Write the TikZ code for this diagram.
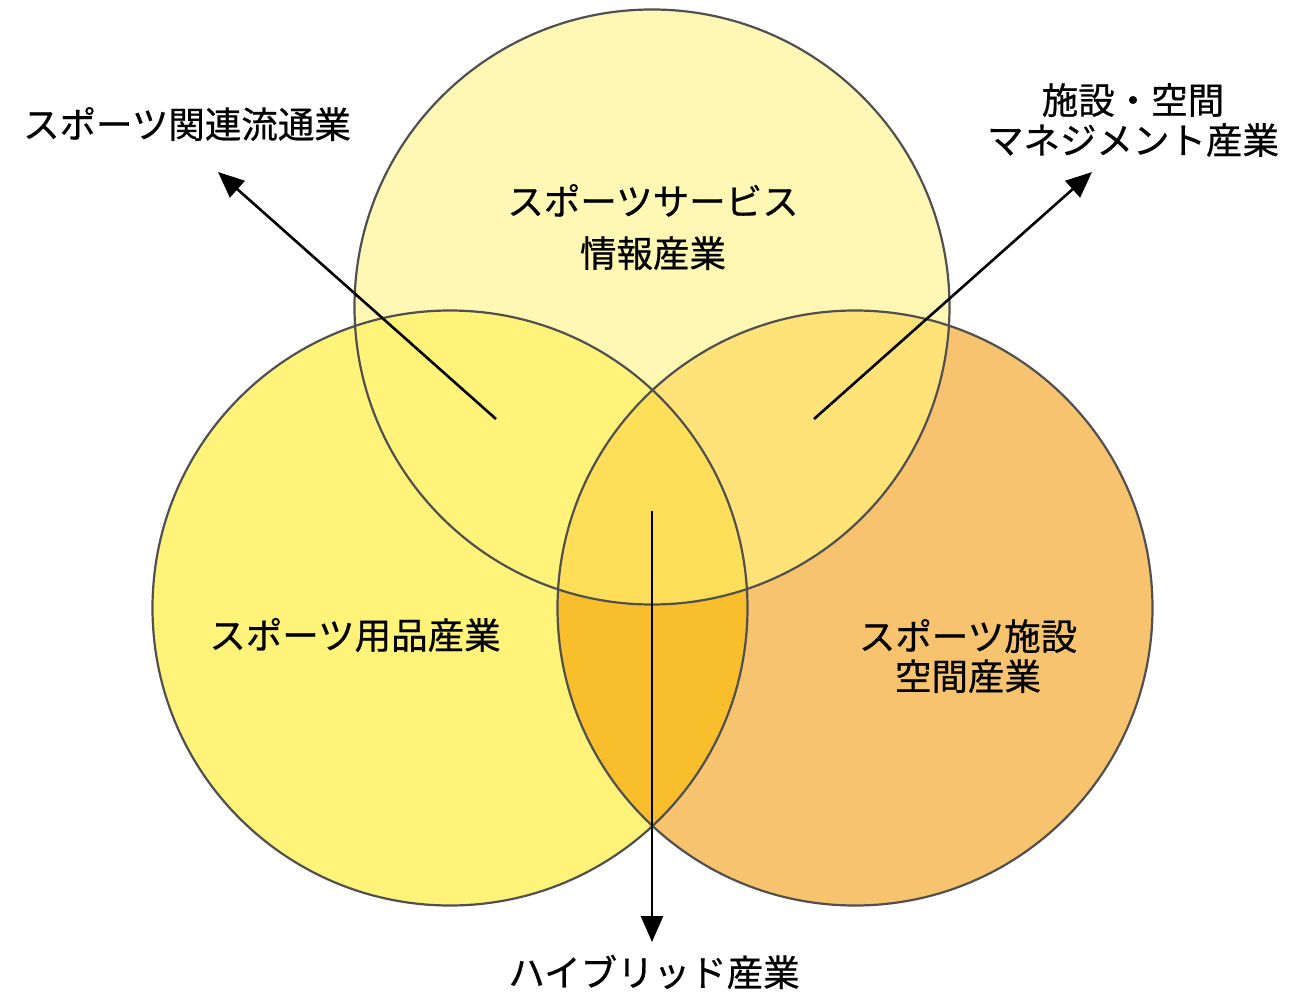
\documentclass[tikz,border=0pt]{standalone}
\usepackage{fontspec}
\setmainfont{Noto Sans CJK JP}[FakeBold=0.6]
\usetikzlibrary{arrows.meta}
\definecolor{ctop}{HTML}{FFF8B4}
\definecolor{cleft}{HTML}{FFF37A}
\definecolor{cright}{HTML}{F8C36E}
\definecolor{ctl}{HTML}{FFF37A}
\definecolor{ctr}{HTML}{FFE278}
\definecolor{clr}{HTML}{F8BE2C}
\definecolor{ccen}{HTML}{FFDF5A}
\definecolor{cedge}{HTML}{505050}
\tikzset{
  lbl/.style={font=\fontsize{36.5}{40}\selectfont, align=center, inner sep=0pt},
  arr/.style={line width=2.6pt, -{Triangle[length=26pt,width=22pt]}},
  rim/.style={draw=cedge, line width=2.2pt}
}
\begin{document}
\begin{tikzpicture}[x=1pt,y=-1pt]
\useasboundingbox (0,0) rectangle (1310,993);
\coordinate (T) at (652,307);
\coordinate (L) at (450,608);
\coordinate (R) at (855,608);
\def\rr{297.5pt}
% single fills
\fill[ctop] (T) circle[radius=\rr];
\fill[cleft] (L) circle[radius=\rr];
\fill[cright] (R) circle[radius=\rr];
% overlaps
\begin{scope}
  \clip (T) circle[radius=\rr];
  \fill[ctl] (L) circle[radius=\rr];
  \fill[ctr] (R) circle[radius=\rr];
\end{scope}
\begin{scope}
  \clip (L) circle[radius=\rr];
  \fill[clr] (R) circle[radius=\rr];
\end{scope}
\begin{scope}
  \clip (T) circle[radius=\rr];
  \clip (L) circle[radius=\rr];
  \fill[ccen] (R) circle[radius=\rr];
\end{scope}
% rims
\draw[rim] (L) circle[radius=\rr];
\draw[rim] (R) circle[radius=\rr];
\draw[rim] (T) circle[radius=\rr];
% labels
\node[lbl, font=\fontsize{36.5}{52}\selectfont] (svc) at (653,227) {スポーツサービス\\情報産業};
\node[lbl] (goods) at (355,635) {スポーツ用品産業};
\node[lbl] (fac) at (968,656) {スポーツ施設\\空間産業};
\node[lbl] (dist) at (187,124) {スポーツ関連流通業};
\node[lbl] (mgmt) at (1133,120) {施設・空間\\マネジメント産業};
\node[lbl] (hyb) at (654,972) {ハイブリッド産業};
% arrow anchors
\coordinate (a1s) at (496,419);
\coordinate (a1e) at (218,172);
\coordinate (a2s) at (814,419);
\coordinate (a2e) at (1092,172);
\coordinate (a3s) at (652,511);
\coordinate (a3e) at (652,942);
\draw[arr] (a1s) -- (a1e);
\draw[arr] (a2s) -- (a2e);
\draw[arr] (a3s) -- (a3e);
\end{tikzpicture}
\end{document}
